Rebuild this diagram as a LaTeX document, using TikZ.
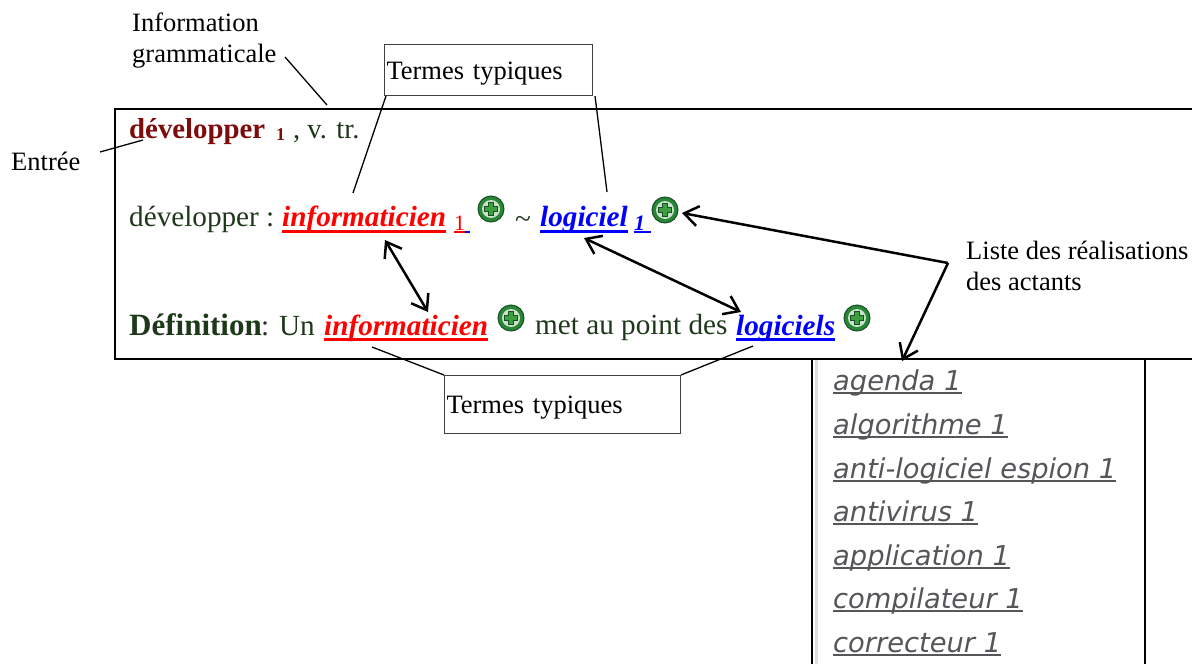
\documentclass[tikz,border=0pt]{standalone}
\usepackage{fontspec}
\setmainfont{Liberation Serif}
\newfontfamily\listefont{DejaVu Sans}
\usetikzlibrary{arrows.meta}
\definecolor{vertfonce}{RGB}{30,56,26}
\definecolor{rougefonce}{RGB}{125,12,12}
\definecolor{gristexte}{RGB}{85,85,90}
\definecolor{vertanneau}{RGB}{40,135,55}
\definecolor{vertpale}{RGB}{200,225,200}
\definecolor{vertcroix}{RGB}{60,160,65}
\definecolor{vertbord}{RGB}{25,80,35}
\tikzset{
    txt/.style={anchor=base west, inner sep=0pt},
    note/.style={txt, font=\fontsize{26.5}{31}\selectfont, align=left},
    corps/.style={txt, font=\fontsize{29.2}{31}\selectfont, text=vertfonce},
    terme/.style={corps, font=\fontsize{29.2}{31}\selectfont\bfseries\itshape},
    soul/.style={line width=3pt},
    trait/.style={line width=1.3pt},
    termbox/.style={draw=black!75, line width=1pt, anchor=north west, align=left,
        inner xsep=2pt, inner ysep=0pt, text height=24pt, text depth=6pt,
        font=\fontsize{26.5}{29}\selectfont},
    fleche/.style={line width=2.5pt, {Straight Barb[length=14pt,width=20pt]}-{Straight Barb[length=14pt,width=20pt]}},
    flechefin/.style={line width=2.5pt, -{Straight Barb[length=14pt,width=20pt]}},
    mot/.style={txt, text=gristexte, font=\fontsize{27.3}{29}\listefont\itshape},
    icone/.style={circle, minimum size=26pt, inner sep=0pt, draw=vertbord, line width=1pt,
        fill=vertanneau,
        path picture={
            \fill[vertpale] (path picture bounding box.center) circle (9pt);
            \draw[vertbord, line width=5.5pt] ([xshift=-7pt]path picture bounding box.center) -- ([xshift=7pt]path picture bounding box.center);
            \draw[vertbord, line width=5.5pt] ([yshift=-7pt]path picture bounding box.center) -- ([yshift=7pt]path picture bounding box.center);
            \draw[vertcroix, line width=3.5pt] ([xshift=-6pt]path picture bounding box.center) -- ([xshift=6pt]path picture bounding box.center);
            \draw[vertcroix, line width=3.5pt] ([yshift=-6pt]path picture bounding box.center) -- ([yshift=6pt]path picture bounding box.center);
        }},
}
\begin{document}
\begin{tikzpicture}[x=1pt,y=-1pt]
    \useasboundingbox (0,0) rectangle (1192,664);
    % cadre principal
    \draw[line width=2pt] (1192,109) -- (115,109) -- (115,359) -- (1192,359);
    % notes
    \node[note] (info) at (132,62) {Information\\grammaticale};
    \node[note] (entree) at (11,170) {Entrée};
    \node[note] (liste) at (966,290) {Liste des réalisations\\des actants};
    \node[termbox, minimum width=208pt, minimum height=51pt, text width=204pt] (boxA) at (384,44) {Termes typiques};
    \node[termbox, minimum width=236pt, minimum height=58pt, text width=232pt] (boxB) at (444,375) {Termes typiques};
    % ligne 1
    \node[corps, text=rougefonce, font=\fontsize{28.8}{30}\selectfont\bfseries] (dev) at (129,138) {développer};
    \node[corps, text=rougefonce, font=\fontsize{18}{20}\selectfont\bfseries] (devnum) at (276,140) {1};
    \node[corps, font=\fontsize{28.5}{30}\selectfont] (gram) at (293,138) {, v. tr.};
    % ligne 2
    \node[corps] (devB) at (129,226) {développer :};
    \node[terme, text=red] (infA) at (282,226) {informaticien};
    \node[corps, text=red, font=\fontsize{22}{24}\selectfont] (numA) at (454,230) {1};
    \node[corps] (tilde) at (515,228) {\char126};
    \node[terme, text=blue] (logA) at (540,226) {logiciel};
    \node[corps, text=blue, font=\fontsize{22}{24}\selectfont\bfseries\itshape] (numB) at (634,230) {1};
    % ligne 3
    \node[corps, font=\fontsize{31}{33}\selectfont\bfseries] (def) at (129,335) {Définition};
    \node[corps] (un) at (261,335) {: Un};
    \node[terme, text=red] (infB) at (324,335) {informaticien};
    \node[corps] (met) at (535,334) {met au point des};
    \node[terme, text=blue] (logB) at (736,335) {logiciels};
    % soulignements
    \draw[soul, red] ([yshift=-5pt]infA.base west) -- ([yshift=-5pt]infA.base east);
    \draw[soul, red] ([yshift=-4pt]infB.base west) -- ([yshift=-4pt]infB.base east);
    \draw[soul, blue] ([yshift=-5pt]logA.base west) -- ([yshift=-5pt]logA.base east);
    \draw[soul, blue] ([yshift=-4pt]logB.base west) -- ([yshift=-4pt]logB.base east);
    \draw[red, line width=1.5pt] ([yshift=-2pt]numA.base west) -- ([yshift=-2pt]numA.base east);
    \draw[blue, line width=1.5pt] ([yshift=-2pt]numA.base east) -- ++(5,0);
    \draw[blue, line width=1.5pt] ([yshift=-2pt]numB.base west) -- ([yshift=-2pt,xshift=6pt]numB.base east);
    % icones
    \node[icone] (plusA) at (491,209) {};
    \node[icone] (plusB) at (665,210) {};
    \node[icone] (plusC) at (511,318) {};
    \node[icone] (plusD) at (857,318) {};
    % panneau de la liste
    \draw[black!12, line width=3pt] (816,360) -- (816,664);
    \draw[line width=2pt] (812,359) -- (812,664) (1145,359) -- (1145,664);
    \foreach \nom/\mot/\y in {a/agenda/390, b/algorithme/434, c/anti-logiciel espion/478, d/antivirus/521, e/application/565, f/compilateur/608, g/correcteur/652} {
        \node[mot] (mot\nom) at (833,\y) {\mot\ 1};
        \draw[gristexte, line width=1.5pt] ([yshift=-3pt]mot\nom.base west) -- ([yshift=-3pt]mot\nom.base east);
    }
    % points d'attache
    \coordinate (infoA) at (285,57);
    \coordinate (infoB) at (327,105);
    \coordinate (entA) at (100,152);
    \coordinate (entB) at (143,140);
    \coordinate (termeA) at (353,193);
    \coordinate (termeB) at (607,192);
    \coordinate (termeC) at (372,347);
    \coordinate (termeD) at (753,346);
    \coordinate (infHaut) at (385,240);
    \coordinate (infBas) at (428,312);
    \coordinate (logHaut) at (584,238);
    \coordinate (logBas) at (741,312);
    \coordinate (nd) at (948,263);
    \coordinate (ndA) at (682,213);
    \coordinate (ndB) at (902,361);
    % traits
    \draw[trait] (infoA) -- (infoB);
    \draw[trait] (entA) -- (entB);
    \draw[trait] (boxA.south west) ++(2,0) -- (termeA);
    \draw[trait] (boxA.south east) ++(2,0) -- (termeB);
    \draw[trait] (boxB.north west) -- (termeC);
    \draw[trait] (boxB.north east) -- (termeD);
    % fleches
    \draw[fleche] (infHaut) -- (infBas);
    \draw[fleche] (logHaut) -- (logBas);
    \draw[flechefin] (nd) -- (ndA);
    \draw[flechefin] (nd) -- (ndB);
\end{tikzpicture}
\end{document}
